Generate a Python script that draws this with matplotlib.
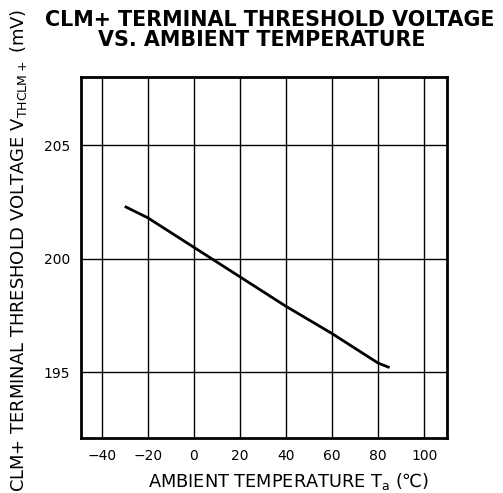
import matplotlib
matplotlib.use("Agg")
import matplotlib.pyplot as plt

# data
temp = [-30, -20, 0, 20, 40, 60, 80, 85]
vth = [202.3, 201.8, 200.5, 199.2, 197.9, 196.7, 195.4, 195.2]

x_ticks = [-40, -20, 0, 20, 40, 60, 80, 100]
x_ticklabels = ["\u221240", "\u221220", "0", "20", "40", "60", "80", "100"]
y_ticks = [195, 200, 205]

plt.rcParams['font.family'] = ['DejaVu Sans']
plt.rcParams['mathtext.fontset'] = 'dejavusans'
plt.rcParams['mathtext.default'] = 'regular'

fig = plt.figure(figsize=(5.03, 4.93), dpi=100)
ax = fig.add_axes([0.161, 0.1116, 0.728, 0.7322])

ax.plot(temp, vth, color='black', linewidth=2.0, solid_capstyle='butt')

ax.set_xlim(-49, 110)
ax.set_ylim(192.1, 208.0)
ax.set_xticks(x_ticks)
ax.set_xticklabels(x_ticklabels)
ax.set_yticks(y_ticks)
ax.tick_params(length=0, labelsize=10, pad=8)
ax.grid(True, color='black', linewidth=1.0)
ax.set_axisbelow(True)
for s in ax.spines.values():
    s.set_linewidth(2.0)

# two-line title
fig.text(0.537, 0.959, "CLM+ TERMINAL THRESHOLD VOLTAGE", ha='center', va='center',
         fontsize=14.9, fontweight='bold')
fig.text(0.521, 0.919, "VS. AMBIENT TEMPERATURE", ha='center', va='center',
         fontsize=14.9, fontweight='bold')

fig.text(0.573, 0.024, r"AMBIENT TEMPERATURE T$_a$ (℃)", ha='center', va='center',
         fontsize=12.8)
fig.text(0.037, 0.492, r"CLM+ TERMINAL THRESHOLD VOLTAGE V$_{THCLM+}$ (mV)",
         ha='center', va='center', rotation=90, fontsize=12.9)

fig.savefig("out.png", dpi=100)
